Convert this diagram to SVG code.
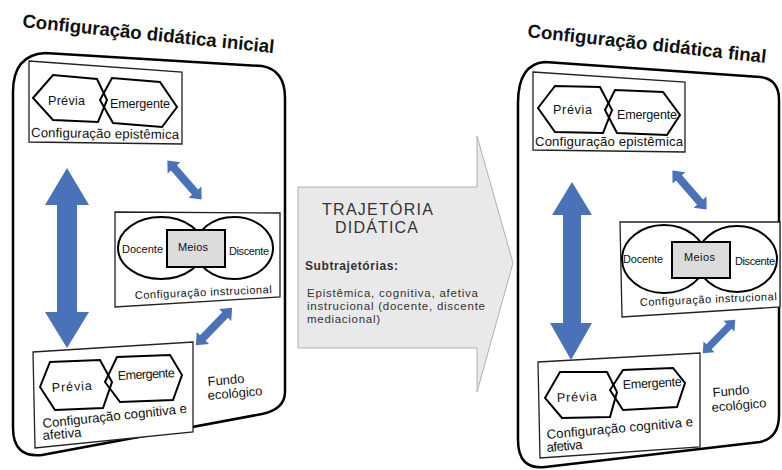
<svg xmlns="http://www.w3.org/2000/svg" xmlns:xlink="http://www.w3.org/1999/xlink" width="782" height="470" viewBox="0 0 782 470">
<style>
text{font-family:"Liberation Sans",Arial,sans-serif;fill:#111}
.title{font-size:18.6px;font-weight:bold}
.lbl{font-size:12.6px}
.sm{font-size:11px}
.cap{font-size:13.2px}
.eco{font-size:13px}
.panel{fill:#fff;stroke:#000;stroke-width:2.5}
.box{fill:#fff;stroke:#222;stroke-width:1.3}
.hex{fill:none;stroke:#000;stroke-width:2}
.ell{fill:none;stroke:#000;stroke-width:2}
.meios{fill:#dcdcdc;stroke:#000;stroke-width:2}
.blue{fill:#4a72b8}
.mid{fill:#333}
</style>
<defs>
<path id="darr" d="M-26,0 L-16,-8.5 L-16,-4 L16,-4 L16,-8.5 L26,0 L16,8.5 L16,4 L-16,4 L-16,8.5 Z"/>
</defs>

<g id="trajetoria">
<polygon points="298,187 477,187 477,136 513,263 477,392 477,348 298,348" fill="#e9e9e9" stroke="#b0b0b0" stroke-width="1"/>
<text x="322" y="215" class="mid" font-size="16" textLength="111">TRAJETÓRIA</text>
<text x="335" y="233" class="mid" font-size="16" textLength="83">DIDÁTICA</text>
<text x="305" y="270" class="mid" font-size="12" font-weight="bold" textLength="93">Subtrajetórias:</text>
<text x="307" y="297" class="mid" font-size="11.5" textLength="171">Epistêmica, cognitiva, afetiva</text>
<text x="307" y="310" class="mid" font-size="11.5" textLength="178">instrucional (docente, discente</text>
<text x="307" y="323" class="mid" font-size="11.5" textLength="73">mediacional)</text>
</g>

<g id="panel-inicial">
<text class="title" transform="translate(22,27) rotate(5.9)" textLength="253">Configuração didática inicial</text>
<path class="panel" d="M13,92 Q13,55 45,53 L262,66 Q285,70 285,98 L285,392 Q285,409 262,414 L42,455 Q13,458 13,428 Z"/>
</g>

<g id="epistemica-inicial">
<polygon class="box" points="29,61 182,72 182,144 29,142"/>
<polygon class="hex" points="33,98 53,75 97,79 107,100 98,122 53,120"/>
<polygon class="hex" points="100,100 112,78 160,82 177,107 162,127 113,123"/>
<text class="lbl" x="48" y="105" textLength="37">Prévia</text>
<text class="lbl" x="110" y="108" textLength="60">Emergente</text>
<text class="cap" x="31" y="137" textLength="148" transform="rotate(0.8 31 137)">Configuração epistêmica</text>
</g>

<g id="instrucional-inicial">
<polygon class="box" points="115,212 280,213 280,297 115,307"/>
<ellipse class="ell" cx="161" cy="248" rx="43" ry="31"/>
<ellipse class="ell" cx="234" cy="248" rx="39" ry="31"/>
<rect class="meios" x="167" y="230" width="58" height="37"/>
<text class="sm" x="122" y="253" textLength="41">Docente</text>
<text class="sm" x="178" y="251" textLength="30">Meios</text>
<text class="sm" x="229" y="255" textLength="40">Discente</text>
<text class="sm" x="135" y="299" font-size="12" textLength="137" transform="rotate(-2.5 135 299)">Configuração instrucional</text>
</g>

<g id="cognitiva-inicial">
<polygon class="box" points="33,352 193,342 193,432 35,448"/>
<polygon class="hex" points="40,387 50,362 100,360 112,382 103,408 55,410"/>
<polygon class="hex" points="105,382 117,357 170,355 182,375 173,400 120,402"/>
<text class="lbl" x="52" y="392" textLength="40" transform="rotate(-3 52 392)">Prévia</text>
<text class="lbl" x="118" y="380" textLength="57" transform="rotate(-3 118 380)">Emergente</text>
<text class="cap" x="43" y="428" textLength="145" transform="rotate(-6 43 428)">Configuração cognitiva e</text>
<text class="cap" x="43" y="440" textLength="39" transform="rotate(-5 43 440)">afetiva</text>
</g>

<g id="fundo-inicial">
<text class="eco" x="208" y="386" transform="rotate(-5 208 386)">Fundo</text>
<text class="eco" x="208" y="400" transform="rotate(-5 208 400)">ecológico</text>
</g>

<g id="panel-final">
<text class="title" transform="translate(527,37) rotate(6.2)" textLength="240">Configuração didática final</text>
<path class="panel" d="M518,103 Q518,64 545,62 L760,77 Q779,79 779,100 L779,415 Q779,438 760,442 L545,467 Q518,470 518,440 Z"/>
</g>

<g id="epistemica-final">
<polygon class="box" points="533,72 685,82 685,152 533,150"/>
<polygon class="hex" points="538,108 555,86 600,87 612,110 603,133 555,132"/>
<polygon class="hex" points="605,110 615,90 663,92 680,115 667,135 617,133"/>
<text class="lbl" x="553" y="114" textLength="39">Prévia</text>
<text class="lbl" x="617" y="119" textLength="60">Emergente</text>
<text class="cap" x="535" y="146" textLength="148">Configuração epistêmica</text>
</g>

<g id="instrucional-final">
<polygon class="box" points="620,222 780,222 780,307 622,317"/>
<ellipse class="ell" cx="664" cy="259" rx="42" ry="34"/>
<ellipse class="ell" cx="737" cy="259" rx="40" ry="33"/>
<rect class="meios" x="672" y="242" width="58" height="36"/>
<text class="sm" x="623" y="263" textLength="40">Docente</text>
<text class="sm" x="684" y="261" textLength="31">Meios</text>
<text class="sm" x="735" y="265" textLength="40">Discente</text>
<text class="sm" x="640" y="306" font-size="12" textLength="137" transform="rotate(-2.5 640 306)">Configuração instrucional</text>
</g>

<g id="cognitiva-final">
<polygon class="box" points="538,362 700,353 700,447 540,458"/>
<polygon class="hex" points="545,398 560,372 607,372 617,392 610,417 562,418"/>
<polygon class="hex" points="610,390 623,370 673,368 685,383 677,407 623,410"/>
<text class="lbl" x="557" y="402" textLength="40" transform="rotate(-2 557 402)">Prévia</text>
<text class="lbl" x="623" y="389" textLength="59" transform="rotate(-3 623 389)">Emergente</text>
<text class="cap" x="547" y="439" textLength="147" transform="rotate(-5 547 439)">Configuração cognitiva e</text>
<text class="cap" x="547" y="452" textLength="36" transform="rotate(-5 547 452)">afetiva</text>
</g>

<g id="fundo-final">
<text class="eco" x="713" y="397" transform="rotate(-5 713 397)">Fundo</text>
<text class="eco" x="712" y="412" transform="rotate(-5 712 412)">ecológico</text>
</g>

<g id="connectors">
<path class="blue" d="M67,168 L89,205 L77,205 L77,312 L89,312 L67,348 L45,312 L57,312 L57,205 L45,205 Z"/>
<path class="blue" d="M572,182 L592,215 L581,215 L581,323 L592,323 L571,360 L550,323 L563,323 L563,215 L552,215 Z"/>
<use xlink:href="#darr" class="blue" transform="translate(184.5,180) rotate(48.8)"/>
<use xlink:href="#darr" class="blue" transform="translate(214,326.5) rotate(-45.8)"/>
<use xlink:href="#darr" class="blue" transform="translate(689.5,190) rotate(48.8)"/>
<use xlink:href="#darr" class="blue" transform="translate(719,336.5) rotate(-46) scale(0.9)"/>
</g>
</svg>
